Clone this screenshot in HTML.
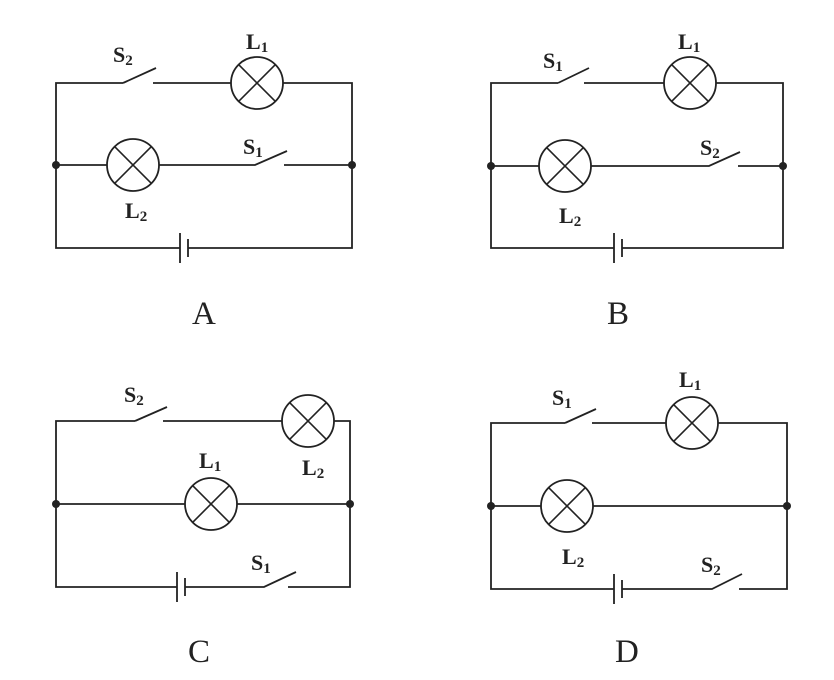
<!DOCTYPE html>
<html><head><meta charset="utf-8"><style>html,body{margin:0;padding:0;background:#fff}svg{display:block}</style></head>
<body>
<svg width="834" height="680" viewBox="0 0 834 680" xmlns="http://www.w3.org/2000/svg">
<defs>
<g id="lamp"><circle cx="0" cy="0" r="26" fill="#fff" stroke="#222" stroke-width="1.8"/><path d="M-18.4,-18.4L18.4,18.4M-18.4,18.4L18.4,-18.4" stroke="#222" stroke-width="1.6"/></g>
<g id="bat"><line x1="0" y1="-15" x2="0" y2="15" stroke="#222" stroke-width="1.8"/><line x1="8" y1="-9" x2="8" y2="9" stroke="#222" stroke-width="1.8"/></g>
</defs>
<g stroke="#222" stroke-width="1.8" fill="none">
<path d="M123,83H56V248H180M188,248H352V83H283M231,83H153M123,83L156,68"/>
<path d="M56,165H107M159,165H255L287,151M284,165H352"/>
<path d="M558,83H491V248H614M622,248H783V83H716M664,83H584M558,83L589,68"/>
<path d="M491,166H539M591,166H709L740,152M738,166H783"/>
<path d="M135,421H56V587H177M185,587H264L296,572M288,587H350V421H334M282,421H163"/>
<path d="M135,421L167,407"/>
<path d="M56,504H185M237,504H350"/>
<path d="M565,423H491V589H614M622,589H712L742,574M739,589H787V423H718M666,423H592M565,423L596,409"/>
<path d="M491,506H541M593,506H787"/>
</g>
<use href="#lamp" x="257" y="83"/><use href="#lamp" x="133" y="165"/>
<use href="#lamp" x="690" y="83"/><use href="#lamp" x="565" y="166"/>
<use href="#lamp" x="308" y="421"/><use href="#lamp" x="211" y="504"/>
<use href="#lamp" x="692" y="423"/><use href="#lamp" x="567" y="506"/>
<use href="#bat" x="180" y="248"/><use href="#bat" x="614" y="248"/>
<use href="#bat" x="177" y="587"/><use href="#bat" x="614" y="589"/>
<g fill="#222">
<circle cx="56" cy="165" r="4"/><circle cx="352" cy="165" r="4"/>
<circle cx="491" cy="166" r="4"/><circle cx="783" cy="166" r="4"/>
<circle cx="56" cy="504" r="4"/><circle cx="350" cy="504" r="4"/>
<circle cx="491" cy="506" r="4"/><circle cx="787" cy="506" r="4"/>
</g>
<g font-family="Liberation Serif, serif" font-size="22" fill="#222" font-weight="bold">
<text x="246" y="49">L<tspan font-size="15" dy="3">1</tspan></text>
<text x="113" y="62">S<tspan font-size="15" dy="3">2</tspan></text>
<text x="243" y="154">S<tspan font-size="15" dy="3">1</tspan></text>
<text x="125" y="218">L<tspan font-size="15" dy="3">2</tspan></text>
<text x="678" y="49">L<tspan font-size="15" dy="3">1</tspan></text>
<text x="543" y="68">S<tspan font-size="15" dy="3">1</tspan></text>
<text x="700" y="155">S<tspan font-size="15" dy="3">2</tspan></text>
<text x="559" y="223">L<tspan font-size="15" dy="3">2</tspan></text>
<text x="124" y="402">S<tspan font-size="15" dy="3">2</tspan></text>
<text x="199" y="468">L<tspan font-size="15" dy="3">1</tspan></text>
<text x="302" y="475">L<tspan font-size="15" dy="3">2</tspan></text>
<text x="251" y="570">S<tspan font-size="15" dy="3">1</tspan></text>
<text x="552" y="405">S<tspan font-size="15" dy="3">1</tspan></text>
<text x="679" y="387">L<tspan font-size="15" dy="3">1</tspan></text>
<text x="562" y="564">L<tspan font-size="15" dy="3">2</tspan></text>
<text x="701" y="572">S<tspan font-size="15" dy="3">2</tspan></text>
</g>
<g font-family="Liberation Serif, serif" font-size="33" fill="#222">
<text x="192" y="324">A</text>
<text x="607" y="324">B</text>
<text x="188" y="662">C</text>
<text x="615" y="662">D</text>
</g>
</svg>
</body></html>
